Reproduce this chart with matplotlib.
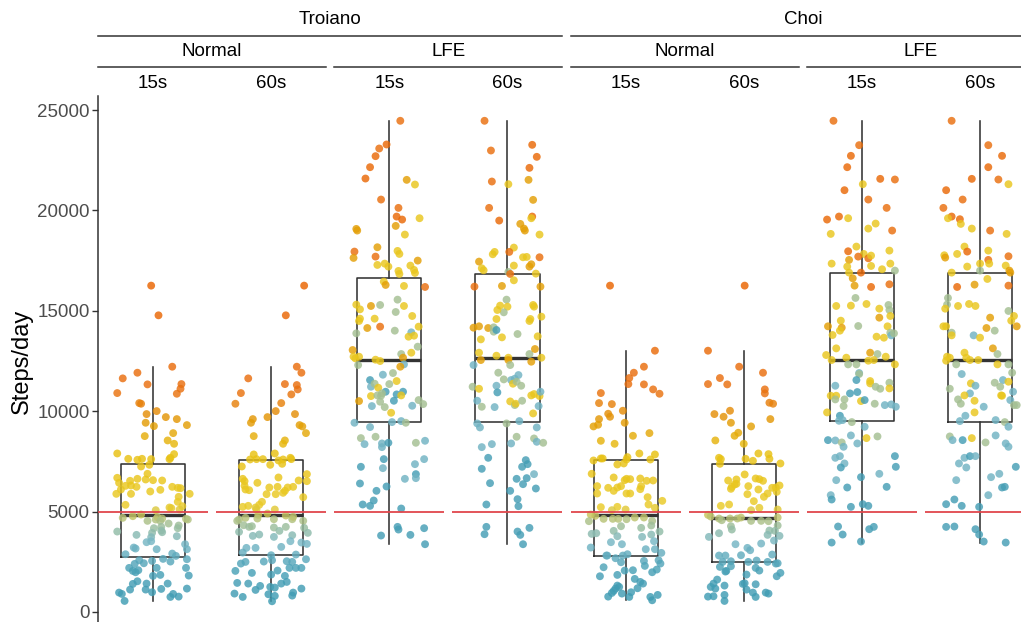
import matplotlib
matplotlib.use("Agg")
import matplotlib.pyplot as plt
from matplotlib.colors import LinearSegmentedColormap, Normalize
from matplotlib.lines import Line2D

plt.rcParams['font.family'] = ['Liberation Sans', 'DejaVu Sans']

# ---- data (steps/day; x = horizontal jitter) ----
studies = ['Troiano', 'Choi']
modes = ['Normal', 'LFE']
epochs = ['15s', '60s']

# Troiano / Normal / 15s
tn15_y = [16254, 14775, 12216, 11916, 11634, 11335, 11351, 11118, 10903, 10869,
          10404, 10371, 10005, 9856, 9706, 9606, 9424, 9307, 9257, 8908,
          8759, 8543, 8376, 7894, 7861, 7678, 7612, 7628, 7579, 7628,
          7612, 7329, 7246, 6681, 6432, 6532, 6631, 6598, 6881, 6565,
          6548, 6100, 6282, 6299, 6232, 6083, 6000, 6232, 6183, 6166,
          5883, 5883, 5734, 5883, 5485, 5335, 5202, 5169, 5269, 5102,
          5069, 4853, 4687, 4770, 4537, 4604, 4720, 4654, 4537, 4637,
          4604, 4305, 4172, 4238, 4404, 4172, 4005, 3939, 4055, 3972,
          3839, 3723, 3773, 3474, 3524, 3374, 3125, 3125, 3208, 3158,
          2908, 2792, 2875, 2643, 2510, 2576, 2426, 2393, 2543, 2626,
          2194, 2044, 1978, 2078, 2194, 1795, 1845, 2194, 1812, 1529,
          1396, 1413, 1413, 1114, 964, 897, 1114, 981, 1147, 1163,
          897, 748, 764, 548]
tn15_x = [-0.02, 0.06, 0.21, -0.17, -0.33, -0.06, 0.31, 0.30, -0.39, 0.26,
          -0.15, -0.13, 0.04, -0.07, 0.14, 0.26, -0.08, 0.37, 0.01, 0.22,
          -0.09, 0.16, 0.23, -0.39, 0.23, 0.19, 0.18, -0.27, -0.17, -0.12,
          -0.02, -0.04, -0.13, -0.39, -0.37, -0.25, -0.17, -0.08, -0.06, 0.00,
          0.10, -0.35, -0.30, -0.24, -0.18, 0.08, -0.03, 0.21, 0.27, 0.30,
          -0.24, -0.40, 0.28, 0.40, 0.27, -0.30, 0.18, 0.20, 0.32, 0.29,
          0.03, -0.13, -0.33, -0.22, -0.06, 0.03, 0.05, 0.10, 0.08, 0.36,
          0.38, 0.28, 0.01, 0.09, 0.17, 0.27, -0.39, -0.01, 0.09, 0.10,
          -0.18, -0.02, 0.26, -0.07, -0.02, 0.35, 0.04, 0.37, -0.21, -0.19,
          0.21, 0.25, -0.30, 0.11, 0.19, -0.15, -0.10, -0.20, -0.01, 0.37,
          -0.26, -0.22, -0.19, -0.16, 0.04, 0.00, 0.08, 0.36, 0.39, -0.17,
          -0.22, -0.07, 0.16, -0.25, -0.37, -0.34, -0.08, -0.01, 0.09, 0.37,
          0.22, 0.19, 0.28, -0.31]

# Troiano / Normal / 60s
tn60_y = [16254, 14775, 12216, 11916, 11634, 11351, 11302, 11085, 10903, 10836,
          10371, 10404, 10005, 9856, 9706, 9606, 9424, 9307, 9241, 8908,
          8759, 8543, 8376, 7845, 7894, 7595, 7612, 7612, 7545, 7595,
          7678, 7612, 7329, 7379, 7246, 6864, 6631, 6515, 6698, 6548,
          6515, 6432, 6282, 6100, 6066, 6199, 6232, 6199, 6232, 5867,
          5934, 6033, 5867, 5717, 5485, 5335, 5202, 5102, 5285, 5102,
          5235, 4903, 4836, 4803, 4604, 4537, 4687, 4654, 4620, 4620,
          4537, 4737, 4321, 4238, 4271, 4205, 4238, 4188, 3989, 4039,
          3939, 3789, 3856, 3739, 3823, 3457, 3524, 3390, 3191, 3191,
          3241, 2958, 2825, 2859, 2626, 2493, 2410, 2510, 2576, 2526,
          2493, 2044, 1945, 1861, 2061, 1795, 2194, 2194, 2194, 1496,
          1446, 1413, 1296, 1247, 1213, 1413, 1163, 1097, 914, 748,
          881, 798, 964, 814, 532]
tn60_x = [0.36, 0.16, 0.28, 0.33, -0.25, 0.15, 0.28, 0.29, -0.33, 0.22,
          -0.39, 0.11, 0.05, 0.26, -0.04, -0.20, -0.22, 0.31, 0.34, 0.38,
          -0.19, 0.15, 0.13, -0.19, 0.04, -0.23, -0.16, -0.09, 0.08, 0.13,
          0.21, 0.22, -0.01, 0.12, -0.32, 0.39, -0.31, -0.29, 0.08, 0.30,
          0.39, -0.15, -0.29, -0.28, -0.24, -0.02, 0.07, 0.18, 0.24, 0.05,
          0.13, 0.15, -0.05, 0.35, -0.10, -0.13, -0.17, -0.16, -0.25, 0.04,
          -0.31, -0.04, -0.14, 0.16, -0.35, -0.37, -0.28, -0.15, 0.03, 0.23,
          0.35, 0.24, -0.30, -0.24, -0.21, 0.03, 0.16, 0.36, -0.35, 0.09,
          0.40, -0.20, -0.13, 0.03, 0.23, 0.33, 0.21, 0.39, -0.27, -0.17,
          0.11, -0.31, 0.00, 0.27, 0.38, -0.28, -0.33, -0.08, 0.01, 0.17,
          0.23, -0.39, -0.21, 0.00, 0.07, 0.15, 0.20, 0.27, 0.33, 0.17,
          -0.37, -0.25, -0.12, -0.01, 0.04, 0.11, 0.33, -0.17, -0.40, -0.31,
          -0.03, 0.04, 0.24, 0.23, 0.01]

# Troiano / LFE / 15s   (colour letters: B blue, L light blue, S sage, Y yellow, G gold, O orange, R red-orange)
tl15_y = [24465, 23285, 23085, 22703, 22154, 21589, 21523, 21290, 20542, 20127,
          19695, 19545, 19612, 19229, 19080, 18997, 18797, 18166, 17950, 17634,
          17700, 17983, 17833, 17285, 17351, 17202, 17501, 17252, 17036, 16886,
          16986, 16836, 16454, 16288, 16238, 16188, 15307, 15074, 15241, 15290,
          15556, 15241, 14941, 14742, 14609, 14493, 14609, 14143, 14210, 14011,
          14210, 13877, 13928, 13711, 13761, 13213, 13047, 12714, 12631, 12714,
          12847, 12914, 12664, 12565, 12498, 12299, 12332, 12216, 11551, 11218,
          11817, 11900, 11501, 11368, 11168, 11351, 10969, 10836, 10969, 10786,
          10753, 10786, 10770, 10886, 10504, 10471, 10520, 10554, 10354, 10255,
          10205, 10271, 9922, 9424, 9457, 9507, 9424, 9208, 8659, 8360,
          8726, 8393, 8210, 8426, 8426, 8526, 7612, 7163, 7230, 7612,
          7362, 6631, 6864, 6665, 6399, 6249, 6033, 5551, 5352, 5285,
          5152, 4238, 4105, 4172, 3806, 3839, 3374]
tl15_x = [0.12, -0.03, -0.11, -0.15, -0.21, -0.26, 0.19, 0.28, -0.09, 0.10,
          0.08, 0.14, 0.33, 0.07, -0.36, -0.35, 0.17, -0.13, -0.38, -0.39,
          -0.15, 0.09, 0.11, -0.13, -0.05, -0.01, 0.31, 0.23, 0.27, 0.28,
          0.10, 0.11, -0.06, -0.04, 0.16, 0.39, -0.36, -0.32, -0.20, -0.10,
          0.09, 0.16, 0.07, 0.25, -0.32, -0.33, -0.16, -0.24, -0.10, 0.06,
          0.32, -0.36, 0.24, 0.21, 0.27, 0.31, -0.40, -0.39, -0.37, -0.33,
          0.13, 0.24, 0.15, -0.15, -0.10, -0.34, 0.16, 0.12, -0.21, -0.20,
          -0.07, 0.04, 0.08, -0.16, -0.12, 0.00, -0.04, 0.08, 0.15, 0.13,
          -0.20, -0.13, -0.09, -0.08, -0.33, -0.10, 0.05, 0.32, 0.37, -0.19,
          -0.05, 0.25, 0.02, -0.38, 0.03, 0.13, 0.18, -0.21, -0.31, -0.27,
          -0.15, -0.08, -0.08, -0.01, 0.29, 0.39, -0.06, -0.07, -0.31, 0.38,
          0.28, 0.17, 0.29, 0.29, -0.32, -0.03, -0.14, -0.17, -0.29, -0.21,
          0.13, 0.09, 0.10, 0.38, -0.09, 0.23, 0.39]
tl15_c = ("ORORRRGYOO" "RRYGGGYGOG" "OYYYYYGYYY" "YYYGYOYYGS" "SYSYYYYGOS"
          "YSLYYSGYYY" "SYGYYSLGBL" "LSYSYSBBBY" "YSSSGSBSSL" "SLYLLLSLSL"
          "SLLBSLBLBL" "LLBLBBBBBB" "BBBBBBB")

# Troiano / LFE / 60s
tl60_y = [24465, 23268, 22985, 22670, 22121, 21307, 21440, 21523, 20526, 20127,
          19695, 19612, 19495, 19329, 19096, 18997, 18797, 18149, 17933, 17817,
          17933, 17451, 17667, 17684, 17667, 17252, 17318, 17202, 17119, 17019,
          16936, 16836, 16853, 16520, 16205, 16238, 16205, 15556, 15257, 15207,
          14925, 15041, 15290, 15207, 14709, 14592, 14592, 14493, 14160, 14227,
          14143, 14177, 13961, 14044, 13678, 13578, 13844, 13728, 12914, 12548,
          12764, 12664, 12548, 12465, 12847, 13097, 12664, 12299, 12299, 11917,
          11551, 11617, 11800, 11584, 11368, 11468, 11218, 11118, 11268, 10936,
          11268, 10786, 10853, 10753, 10969, 10520, 10221, 10205, 10487, 10304,
          10371, 10520, 9889, 10255, 9390, 9191, 9390, 9507, 9191, 8642,
          8476, 8426, 8210, 8360, 8393, 8726, 7678, 7130, 7230, 7562,
          7362, 6864, 6415, 6631, 6665, 6365, 6149, 6033, 5618, 5269,
          5352, 4238, 3873, 4188, 4005, 3839, 3374]
tl60_x = [-0.25, 0.27, -0.18, 0.32, 0.24, 0.01, -0.17, 0.23, 0.28, -0.20,
          0.27, 0.26, -0.09, 0.14, 0.18, 0.19, 0.35, 0.07, -0.14, -0.16,
          0.02, -0.31, 0.17, 0.21, 0.35, 0.07, 0.26, 0.24, -0.28, -0.26,
          0.01, 0.03, 0.31, 0.07, -0.36, -0.06, 0.36, -0.01, -0.08, 0.00,
          -0.04, -0.11, 0.28, 0.29, 0.37, -0.12, 0.25, 0.24, -0.37, -0.31,
          -0.21, -0.15, -0.15, -0.12, -0.06, -0.29, 0.11, 0.33, -0.31, -0.29,
          -0.12, 0.01, 0.01, 0.26, 0.24, 0.30, 0.37, -0.37, 0.03, -0.10,
          0.04, 0.08, 0.12, -0.04, 0.06, 0.10, -0.38, -0.31, -0.12, -0.11,
          0.15, 0.26, 0.29, 0.35, 0.36, -0.33, -0.28, -0.14, 0.03, 0.08,
          0.09, 0.16, 0.28, 0.34, -0.33, -0.30, -0.01, 0.13, 0.32, 0.29,
          0.32, 0.39, -0.28, -0.17, 0.04, 0.10, -0.21, -0.28, 0.16, 0.20,
          0.22, 0.29, -0.19, 0.10, 0.21, 0.17, 0.31, 0.03, 0.11, 0.12,
          -0.23, -0.23, -0.25, 0.24, 0.11, 0.14, 0.17]
tl60_c = ("ORORRYOGGO" "RYRGGGYYYY" "OGYYOYGGYY" "SOYYOGGSYY" "SYYYYYYYGG"
          "GSSBYYSYYG" "YYGGSGYLSS" "LLLSYSSYLB" "SYYYLLSLYS" "YSYLLLSLLS"
          "LSLLLSBBBB" "BLBBBBBBBB" "BBBBBBB")

# Choi / Normal / 15s
cn15_y = [16254, 13013, 12216, 11916, 11651, 11351, 11335, 11085, 10869, 10903,
          10404, 10354, 9872, 9723, 10022, 9606, 9241, 9324, 9424, 8775,
          8908, 8526, 8376, 7894, 7845, 7595, 7545, 7645, 7645, 7712,
          7595, 7346, 7396, 6881, 6266, 6698, 6565, 6631, 6615, 6648,
          6532, 6548, 5900, 6183, 6033, 6199, 6266, 5900, 5900, 6266,
          6116, 5717, 5534, 5219, 5235, 5352, 5186, 5069, 5102, 4853,
          4786, 4637, 4637, 4637, 4620, 4703, 4703, 4537, 4521, 4305,
          4271, 4188, 3889, 3922, 4039, 4005, 3773, 3739, 3856, 3474,
          3374, 3524, 3208, 3125, 3125, 2942, 2809, 2809, 2676, 2809,
          2875, 2476, 2543, 2576, 2410, 2294, 2227, 2061, 2078, 1978,
          2111, 1778, 1845, 1645, 1496, 1413, 1180, 1313, 1247, 1163,
          1047, 947, 981, 914, 764, 748, 748, 848, 582]
cn15_x = [-0.17, 0.32, 0.20, 0.09, 0.04, 0.03, 0.20, 0.30, 0.37, -0.27,
          -0.29, -0.15, -0.19, -0.17, -0.03, -0.29, -0.35, -0.30, -0.01, 0.08,
          0.26, -0.27, -0.12, 0.15, 0.32, 0.27, -0.35, -0.27, -0.25, 0.02,
          0.01, -0.09, -0.02, -0.37, -0.31, -0.13, -0.01, 0.01, 0.05, 0.16,
          0.23, 0.30, -0.31, -0.19, -0.13, -0.09, -0.05, 0.01, 0.05, 0.17,
          0.16, 0.24, 0.40, -0.27, -0.09, 0.25, 0.32, -0.15, 0.00, -0.38,
          -0.33, -0.24, -0.14, -0.08, 0.01, 0.10, 0.20, 0.29, -0.40, 0.28,
          -0.05, 0.17, -0.37, -0.32, -0.13, 0.37, -0.09, 0.18, 0.28, -0.16,
          -0.04, 0.31, -0.38, 0.22, 0.32, 0.39, -0.21, -0.20, -0.11, -0.03,
          0.02, -0.05, 0.20, 0.36, 0.38, 0.21, -0.24, -0.01, 0.08, 0.29,
          0.34, -0.28, -0.09, 0.10, 0.16, 0.19, 0.13, -0.09, -0.07, -0.11,
          -0.13, -0.15, 0.06, -0.04, -0.19, 0.04, 0.27, 0.35, 0.29]

# Choi / Normal / 60s
cn60_y = [16254, 13013, 12216, 11916, 11651, 11085, 11335, 11351, 10886, 10421,
          10371, 9856, 10022, 9723, 9606, 9424, 9241, 8925, 8775, 8543,
          8376, 7678, 7612, 7379, 7628, 7529, 7894, 7861, 7628, 7396,
          6548, 6598, 6382, 6848, 6648, 6615, 6532, 6232, 6133, 6349,
          6266, 5867, 6100, 6183, 6199, 6299, 5900, 5983, 5518, 5734,
          5285, 5352, 5069, 5186, 5102, 4836, 4753, 4654, 4570, 4654,
          4654, 4703, 4537, 4537, 4521, 4703, 4271, 4305, 4105, 4055,
          4039, 3922, 3839, 3789, 3557, 3739, 3374, 3407, 3191, 3075,
          2809, 2809, 2825, 2859, 2493, 2526, 2493, 2560, 2493, 2410,
          2244, 2277, 2194, 2061, 2426, 1945, 2044, 2011, 1778, 1861,
          1612, 1413, 1429, 1379, 1396, 1247, 1163, 1313, 1114, 964,
          914, 964, 764, 781, 848, 748, 548]
cn60_x = [0.01, -0.39, -0.05, 0.21, -0.26, 0.23, -0.18, -0.39, 0.23, 0.28,
          0.32, -0.32, -0.15, -0.22, 0.29, -0.14, 0.08, -0.06, -0.10, -0.31,
          0.00, -0.27, -0.25, -0.26, 0.02, 0.10, 0.16, 0.27, 0.28, 0.40,
          -0.17, -0.08, -0.08, 0.01, 0.13, 0.17, 0.21, -0.13, -0.14, -0.10,
          0.05, 0.04, 0.16, 0.31, 0.35, 0.39, 0.26, 0.36, 0.11, 0.22,
          -0.25, -0.16, 0.08, 0.17, 0.37, -0.39, -0.36, -0.27, -0.24, -0.15,
          -0.07, -0.03, 0.08, 0.19, 0.27, 0.37, -0.14, 0.37, -0.13, 0.28,
          0.34, -0.27, 0.26, 0.39, 0.33, -0.38, -0.09, 0.19, 0.04, 0.07,
          -0.27, -0.20, -0.03, 0.31, -0.23, -0.14, 0.05, 0.14, 0.26, 0.35,
          -0.26, -0.14, 0.13, 0.17, 0.37, 0.40, -0.19, -0.20, 0.36, 0.03,
          -0.29, -0.33, 0.01, 0.13, -0.01, -0.36, -0.31, -0.21, 0.03, 0.24,
          0.27, 0.10, -0.39, -0.33, -0.21, 0.13, -0.21]

# Choi / LFE / 15s
cl15_y = [24465, 23251, 22720, 22154, 21573, 21540, 21307, 21008, 20542, 20127,
          19545, 19695, 19612, 19346, 18997, 18831, 19096, 18199, 17966, 17833,
          17700, 17617, 17750, 17999, 17534, 17351, 17202, 17235, 17351, 16903,
          17069, 17003, 16903, 16620, 16254, 16188, 16321, 15640, 15241, 15257,
          15340, 15107, 15290, 15041, 14742, 14659, 14509, 14160, 14011, 14227,
          13795, 14243, 14227, 13711, 13661, 13911, 13778, 13877, 13130, 12797,
          12548, 12664, 12914, 12847, 12515, 12548, 12714, 12332, 12332, 12332,
          11900, 11850, 11551, 11268, 11501, 11385, 11218, 11118, 11418, 11135,
          10886, 10953, 10770, 10770, 10587, 10587, 10504, 10554, 10371, 10304,
          10337, 10221, 9939, 10255, 9772, 9523, 9557, 9457, 9224, 8559,
          8543, 8443, 8227, 8792, 8393, 8659, 8742, 7678, 7761, 7396,
          7196, 7761, 7230, 6565, 6715, 6881, 6199, 6232, 5817, 5601,
          5235, 5368, 5285, 4255, 3856, 4122, 4238, 3457, 3507]
cl15_x = [-0.31, -0.03, -0.12, -0.16, 0.20, 0.36, 0.01, -0.19, 0.07, 0.27,
          -0.38, -0.25, -0.15, 0.15, 0.33, -0.34, 0.07, -0.06, -0.15, 0.02,
          -0.04, 0.07, 0.10, 0.30, -0.14, -0.33, -0.16, 0.10, 0.31, -0.14,
          0.22, 0.36, -0.01, -0.10, -0.08, 0.10, 0.30, -0.07, -0.28, -0.12,
          0.05, 0.19, 0.29, 0.30, 0.31, 0.19, -0.23, -0.22, -0.24, -0.37,
          -0.32, -0.04, 0.28, 0.16, 0.24, 0.31, 0.32, 0.35, -0.28, -0.39,
          -0.33, -0.17, 0.09, 0.17, 0.07, 0.13, 0.26, 0.36, -0.15, -0.06,
          -0.03, -0.03, -0.06, -0.29, 0.09, 0.09, 0.15, 0.20, 0.30, 0.30,
          -0.13, -0.05, -0.34, -0.28, -0.29, -0.19, -0.01, 0.03, 0.14, 0.25,
          0.32, 0.37, -0.38, -0.20, -0.24, -0.25, -0.21, -0.11, 0.03, -0.37,
          -0.29, -0.22, -0.20, -0.12, -0.05, 0.05, 0.17, -0.29, -0.24, -0.19,
          -0.23, 0.36, 0.37, -0.28, -0.01, 0.19, -0.16, 0.27, -0.34, -0.33,
          -0.12, 0.01, 0.07, -0.26, -0.21, 0.08, 0.13, -0.33, -0.01]
cl15_c = ("OORRROYROO" "RRYYOYYYRY" "OOYYGYYYYY" "YSRGGROSYY" "YYSSYGYGYG"
          "YSYYYSLSYY" "YYGSYYYYSS" "LSBLYYSSSY" "BBYYSSYBSL" "LLYSBLLSLB"
          "LSLLLYSLLL" "BBBLBLBBLB" "BBBBBBBBB")

# Choi / LFE / 60s
cl60_y = [24465, 23251, 22720, 22154, 21573, 21540, 21307, 21008, 20542, 20127,
          19695, 19612, 19562, 19329, 19096, 18997, 18831, 18199, 17999, 17767,
          17651, 17833, 17950, 17717, 17351, 17534, 17202, 17351, 17252, 17003,
          16903, 17003, 16903, 16587, 16304, 16188, 16254, 15640, 15307, 15107,
          15241, 15340, 15241, 14992, 14742, 14659, 14509, 14227, 14227, 14227,
          13911, 13778, 14143, 14011, 13778, 13661, 13130, 12847, 12914, 12714,
          12664, 12515, 12664, 12548, 12548, 12332, 12332, 12332, 11850, 11917,
          11551, 11418, 11385, 11268, 11218, 11468, 11118, 10886, 10786, 10770,
          10969, 10587, 10371, 10786, 10520, 10554, 9939, 10221, 10304, 10304,
          9772, 9507, 9557, 9457, 9224, 8742, 8559, 8559, 8659, 8443,
          8792, 8393, 8227, 7678, 7761, 7761, 7396, 7196, 7230, 6715,
          6881, 6565, 6199, 6232, 5817, 5368, 5601, 5285, 5235, 4238,
          4255, 4122, 3856, 3507, 3457]
cl60_x = [-0.31, 0.09, 0.24, 0.09, -0.09, 0.20, 0.31, -0.37, -0.19, -0.40,
          -0.31, -0.35, -0.22, -0.21, -0.09, 0.11, 0.29, -0.17, 0.09, -0.39,
          -0.38, -0.25, -0.14, 0.31, 0.00, 0.09, -0.14, 0.10, 0.28, 0.00,
          -0.31, 0.32, 0.33, 0.08, -0.06, -0.25, 0.31, -0.35, -0.36, -0.38,
          -0.24, -0.12, -0.05, 0.31, 0.37, 0.11, 0.34, 0.40, -0.40, -0.37,
          -0.31, -0.31, 0.07, 0.16, -0.07, 0.00, 0.14, 0.19, -0.17, -0.36,
          -0.33, -0.37, -0.15, -0.11, -0.02, 0.19, -0.26, 0.31, -0.20, 0.35,
          0.25, 0.16, -0.10, -0.05, 0.22, 0.31, -0.33, -0.11, 0.23, 0.24,
          0.36, -0.24, -0.21, -0.17, -0.06, 0.33, -0.06, 0.04, 0.37, 0.40,
          -0.16, -0.22, 0.17, 0.27, 0.31, -0.33, -0.30, -0.19, -0.09, 0.06,
          0.17, 0.28, 0.31, -0.17, -0.11, -0.05, -0.23, -0.15, 0.39, 0.12,
          0.21, -0.26, 0.24, 0.27, 0.09, -0.37, -0.28, -0.20, -0.01, -0.37,
          -0.28, -0.05, -0.01, 0.04, 0.28]
cl60_c = ("OORRROYROO" "RYRYYOYYYY" "GYROYOYYYS" "YGGYGROSSY" "YYYSYGYGYY"
          "SYGSLYGSYY" "YYYYYYSSLS" "LSYLSYSLYY" "LSSYYLYLSS" "LLLSLSLBYS"
          "LLLLBLLLBL" "LLBBLBBBBB" "BBBBB")

threshold = 5000
yticks = [0, 5000, 10000, 15000, 20000, 25000]

# colour letter -> equivalent step value on the colour scale
class_steps = {'B': 1500, 'L': 3300, 'S': 4400, 'Y': 6500, 'G': 9300, 'O': 11500, 'R': 14000}

panels = [
    (tn15_y, tn15_x, None), (tn60_y, tn60_x, None),
    (tl15_y, tl15_x, tl15_c), (tl60_y, tl60_x, tl60_c),
    (cn15_y, cn15_x, None), (cn60_y, cn60_x, None),
    (cl15_y, cl15_x, cl15_c), (cl60_y, cl60_x, cl60_c),
]

cmax = 16250
cmap = LinearSegmentedColormap.from_list('zissou', [
    (0.0, '#3B9AB2'), (2000 / cmax, '#48A0B6'), (3500 / cmax, '#78B7C5'),
    (4500 / cmax, '#A9C08C'), (5200 / cmax, '#EACB28'), (8000 / cmax, '#E8C010'),
    (9500 / cmax, '#E39A05'), (11000 / cmax, '#E97010'), (1.0, '#E96400')])
norm = Normalize(0, cmax)

W, H = 1021, 622
fig = plt.figure(figsize=(W / 100, H / 100), dpi=100)

left0, step, pw = 98, 118.15, 110
top, bottom = 96, 626
dark = '#333333'

axes = []
for i, (y, x, c) in enumerate(panels):
    ax = fig.add_axes([(left0 + i * step) / W, 1 - bottom / H, pw / W, (bottom - top) / H])
    ax.set_xlim(-0.6, 0.6)
    ax.set_ylim(-700, 25700)
    ax.boxplot(y, positions=[0], widths=0.7, whis=1.5, showfliers=False, showcaps=False,
               boxprops=dict(color=dark, lw=1.15), whiskerprops=dict(color=dark, lw=1.15),
               medianprops=dict(color=dark, lw=2.4), manage_ticks=False)
    cvals = y if c is None else [class_steps[k] for k in c]
    ax.scatter(x, y, c=cvals, cmap=cmap, norm=norm, s=32, alpha=0.82, lw=0, zorder=3)
    ax.axhline(threshold, color='#E0474C', lw=1.3, zorder=4)
    for s in ax.spines.values():
        s.set_visible(False)
    ax.set_xticks([])
    if i == 0:
        ax.spines['left'].set_visible(True)
        ax.spines['left'].set_color(dark)
        ax.spines['left'].set_linewidth(1.1)
        ax.set_yticks(yticks)
        ax.set_yticklabels([str(t) for t in yticks])
        ax.tick_params(axis='y', length=4, width=1, color=dark, labelcolor='#4D4D4D',
                       labelsize=13.5, pad=2)
    else:
        ax.set_yticks([])
    axes.append(ax)

fig.text(22 / W, 1 - ((top + bottom) / 2) / H, 'Steps/day', rotation=90,
         ha='center', va='center', fontsize=17, color='black')


def px_left(i):
    return (left0 + i * step) / W


def px_right(i):
    return (left0 + i * step + pw) / W


def strip_line(x0, x1, ypx):
    fig.add_artist(Line2D([x0, x1], [1 - ypx / H] * 2, color=dark, lw=1.1,
                          transform=fig.transFigure))


for i in range(8):
    fig.text((px_left(i) + px_right(i)) / 2, 1 - 83 / H, epochs[i % 2],
             ha='center', va='center', fontsize=13.5)
for k in range(4):
    a, b = px_left(2 * k), px_right(2 * k + 1)
    strip_line(a, b, 67)
    fig.text((a + b) / 2, 1 - 52 / H, modes[k % 2], ha='center', va='center', fontsize=13.5)
for s in range(2):
    a, b = px_left(4 * s), px_right(4 * s + 3)
    strip_line(a, b, 36)
    fig.text((a + b) / 2, 1 - 20 / H, studies[s], ha='center', va='center', fontsize=13.5)

fig.savefig('out.png', dpi=100)
